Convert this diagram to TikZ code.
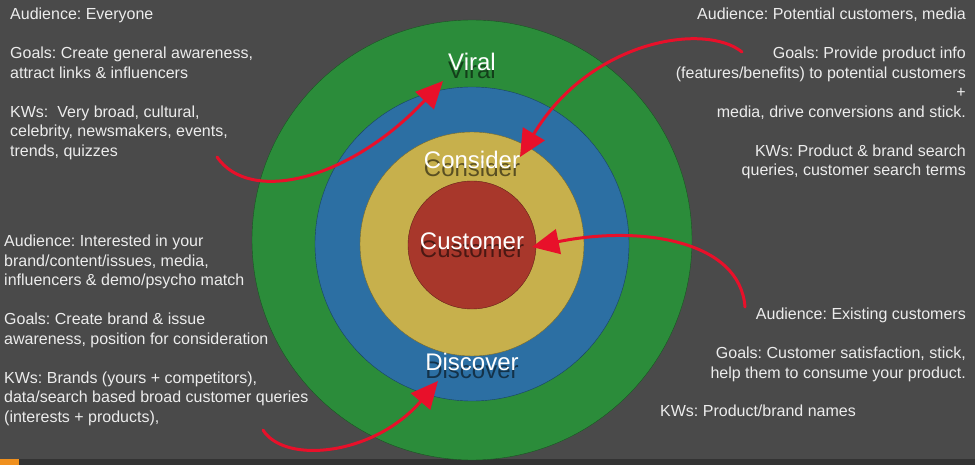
\documentclass[tikz,border=0pt]{standalone}
\usepackage{fontspec}
\setmainfont{Liberation Sans}
\usetikzlibrary{arrows.meta}
\frenchspacing

\definecolor{bggray}{HTML}{4A4A4A}
\definecolor{stripgray}{HTML}{333333}
\definecolor{striporange}{HTML}{F0901E}
\definecolor{ringgreen}{HTML}{2B8C3A}
\definecolor{ringblue}{HTML}{2C6FA3}
\definecolor{ringyellow}{HTML}{C7B04C}
\definecolor{ringred}{HTML}{A8372B}
\definecolor{txtgray}{HTML}{ECECEC}
\definecolor{arrowred}{HTML}{E8102A}

\tikzset{
  blurb/.style={text=txtgray, font=\fontsize{16}{19.5}\selectfont, inner sep=0pt},
  ringlabel/.style={text=white, font=\fontsize{24}{28}\selectfont, inner sep=0pt},
  ringshadow/.style={text=black, text opacity=0.55, font=\fontsize{24}{28}\selectfont, inner sep=0pt},
  pointer/.style={draw=arrowred, line width=3pt, line cap=round, -{Triangle[length=27pt,width=25pt]}}
}

\begin{document}
\begin{tikzpicture}[x=1pt, y=-1pt]
    % background and bottom strip
    \fill[bggray] (0,0) rectangle (975,465);
    \useasboundingbox (0,0) rectangle (975,465);
    \fill[stripgray] (0,459) rectangle (975,465);
    \fill[striporange] (0,459) rectangle (19,465);

    % draw the rings
    \filldraw[fill=ringgreen, draw=ringgreen!60!black] (472,240) circle (220pt);
    \filldraw[fill=ringblue, draw=ringblue!60!black] (472,244) circle (157pt);
    \filldraw[fill=ringyellow, draw=ringyellow!60!black] (472,244) circle (112pt);
    \filldraw[fill=ringred, draw=ringred!60!black] (472,245) circle (64pt);

    % the ring names (shadow first, then the white text)
    \node[ringshadow] at (472,70) {Viral};
    \node[ringlabel] (viral) at (472,62) {Viral};
    \node[ringshadow] at (472,168) {Consider};
    \node[ringlabel] (consider) at (472,160) {Consider};
    \node[ringshadow] at (472,249) {Customer};
    \node[ringlabel] (customer) at (472,241) {Customer};
    \node[ringshadow] at (472,370) {Discover};
    \node[ringlabel] (discover) at (472,362) {Discover};

    % the texts
    \node[blurb, anchor=north west, align=left] (viraltxt) at (10,8)
      {Audience: Everyone\\[19.5pt]
       Goals: Create general awareness,\\
       attract links \& influencers\\[19.5pt]
       KWs:\ \ Very broad, cultural,\\
       celebrity, newsmakers, events,\\
       trends, quizzes};
    \node[blurb, anchor=north west, align=left] (discovertxt) at (4,235)
      {Audience: Interested in your\\
       brand/content/issues, media,\\
       influencers \& demo/psycho match\\[19.5pt]
       Goals: Create brand \& issue\\
       awareness, position for consideration\\[19.5pt]
       KWs: Brands (yours + competitors),\\
       data/search based broad customer queries\\
       (interests + products),};
    \node[blurb, anchor=north east, align=right] (considertxt) at (966,8)
      {Audience: Potential customers, media\\[19.5pt]
       Goals: Provide product info\\
       (features/benefits) to potential customers\\
       +\\
       media, drive conversions and stick.\\[19.5pt]
       KWs: Product \& brand search\\
       queries, customer search terms};
    \node[blurb, anchor=north east, align=right] (customertxt) at (966,308)
      {Audience: Existing customers\\[19.5pt]
       Goals: Customer satisfaction, stick,\\
       help them to consume your product.};
    \node[blurb, anchor=north west] (customerkw) at (660,405) {KWs: Product/brand names};

    % start and end points of the arrows
    \coordinate (s1) at (217,157);
    \coordinate (t1) at (443,81);
    \coordinate (s2) at (742,52);
    \coordinate (t2) at (520,157);
    \coordinate (s3) at (745,307);
    \coordinate (t3) at (532,247);
    \coordinate (s4) at (263,430);
    \coordinate (t4) at (438,381);

    % draw the arrows
    \draw[pointer] (s1) .. controls (250,205) and (350,180) .. (t1);
    \draw[pointer] (s2) .. controls (705,22) and (590,40) .. (t2);
    \draw[pointer] (s3) .. controls (740,240) and (640,225) .. (t3);
    \draw[pointer] (s4) .. controls (285,465) and (375,455) .. (t4);
\end{tikzpicture}
\end{document}
